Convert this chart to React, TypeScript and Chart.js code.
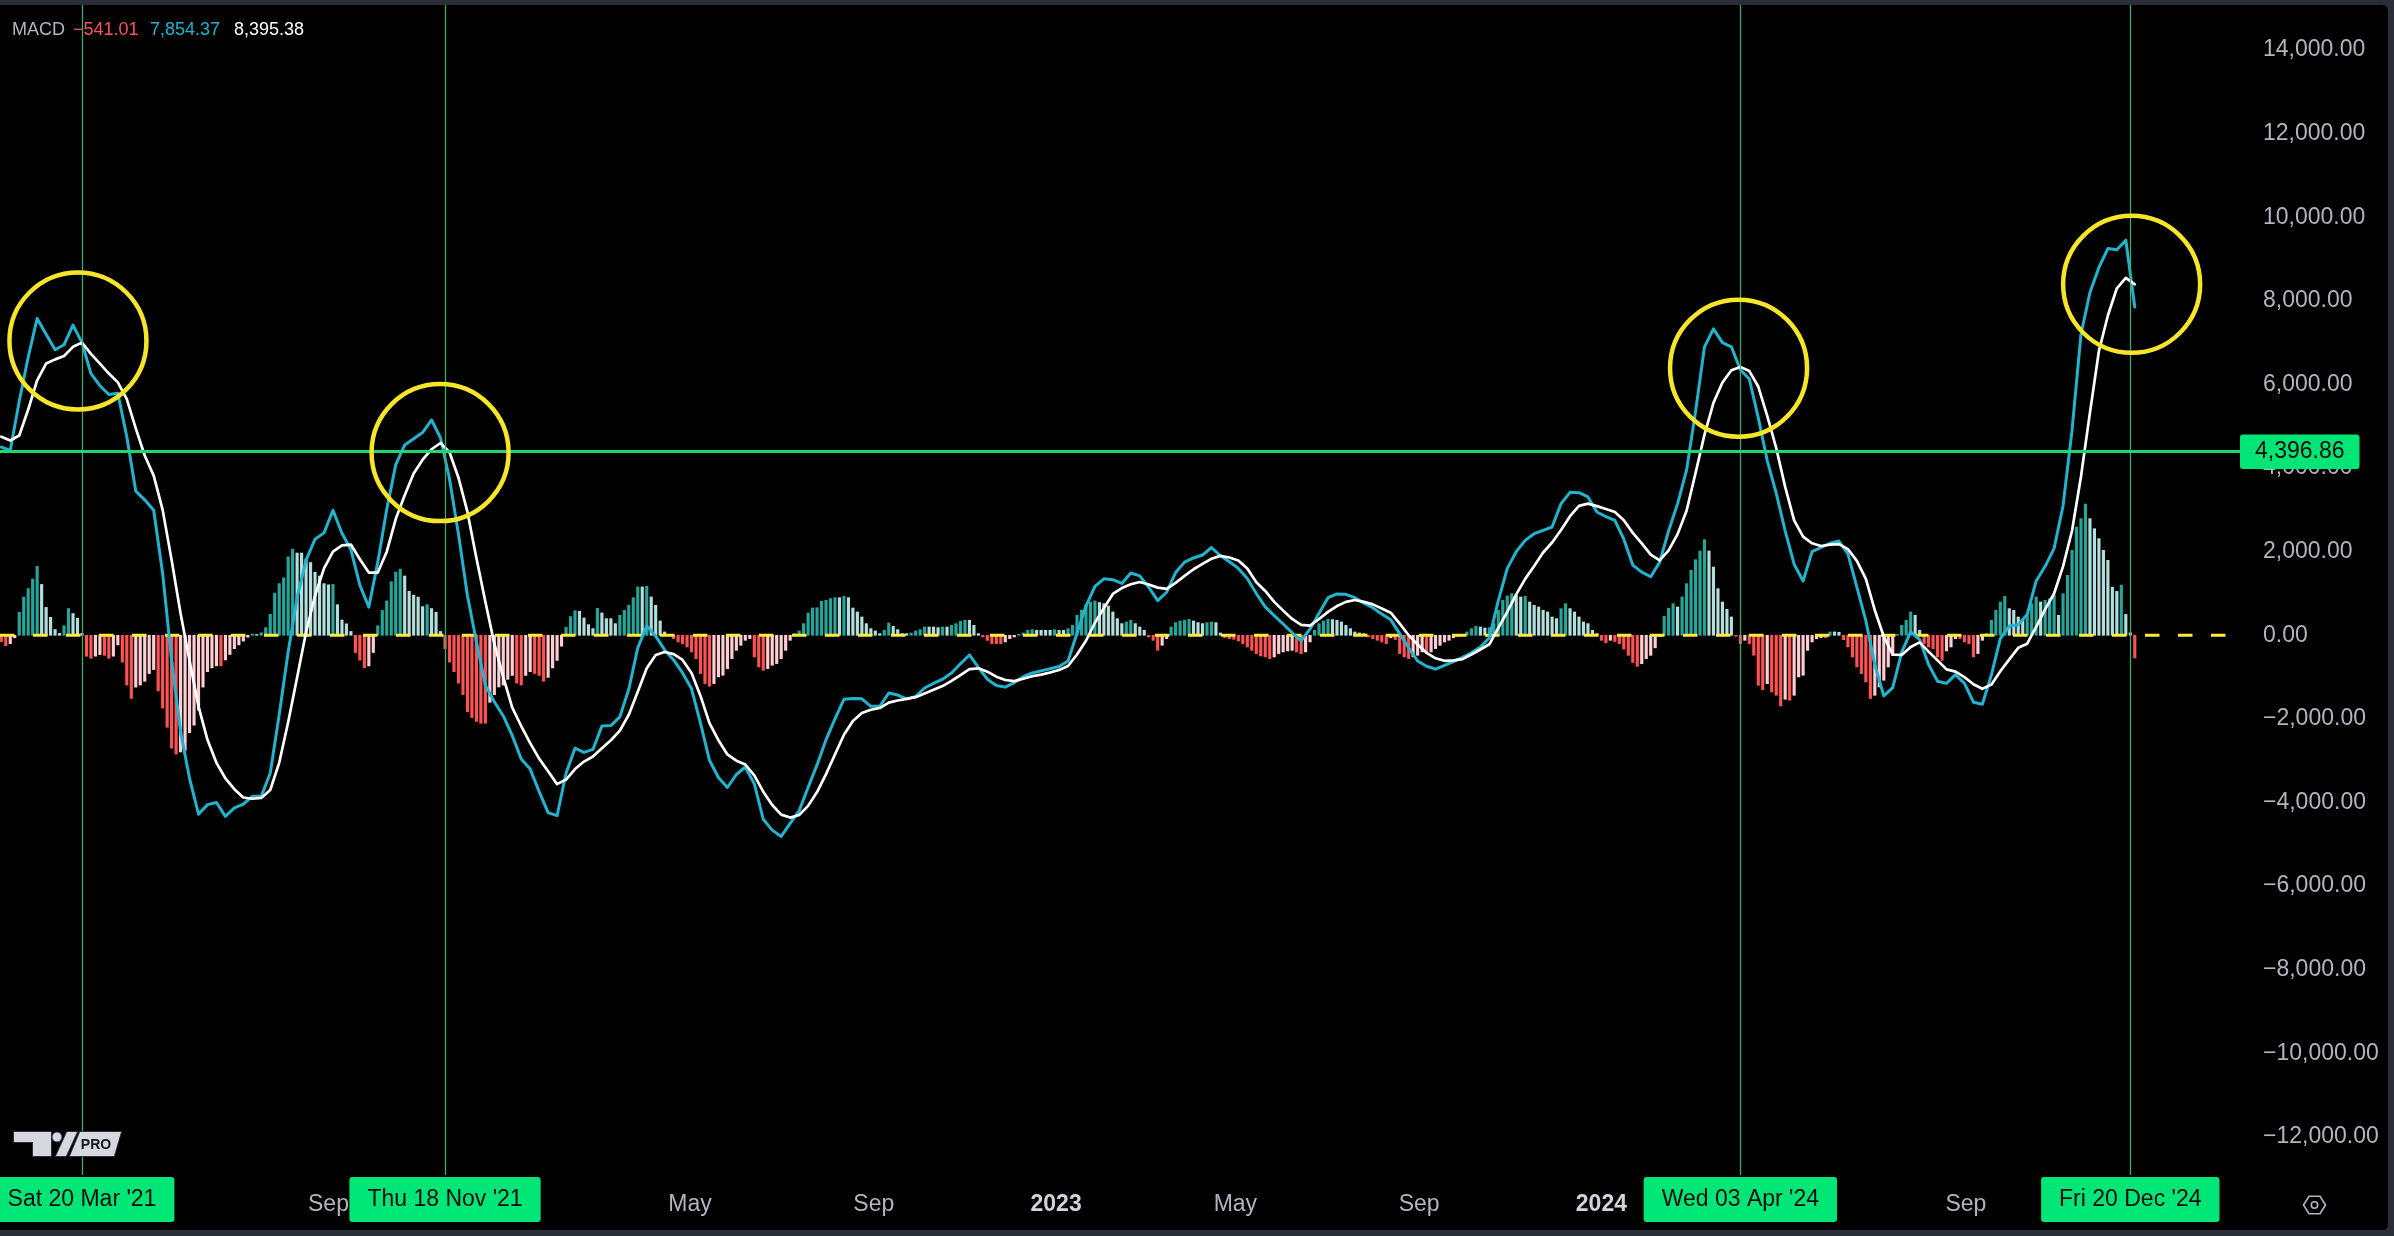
import React, { useEffect, useRef } from "react";
import { Chart, registerables } from "chart.js";

Chart.register(...registerables);

// ---------------- data ----------------
// 3-day bars; bar 0 = 2021-01-25
const startDate = "2021-01-25";
const barDays = 3;
// MACD / signal lines are sampled every 2 bars (bar 0, 2, 4, ... 476)
const lineStep = 2;

const macdLine = [
  4500, 4420, 5600, 6650, 7580, 7200, 6830, 6950, 7420, 7000,
  6260, 5970, 5760, 5790, 4750, 3450, 3240, 2990, 1480, -600,
  -2300, -3420, -4280, -4050, -4000, -4330, -4130, -4040, -3850, -3850,
  -3300, -1900, -400, 900, 1800, 2300, 2450, 2990, 2440, 2050,
  1200, 675, 1750, 3013, 4080, 4550, 4700, 4850, 5150, 4720,
  3740, 2420, 950, -150, -1200, -1590, -1930, -2400, -2960, -3200,
  -3740, -4240, -4315, -3300, -2700, -2800, -2730, -2170, -2160, -1950,
  -1290, -300, 222, -20, -350, -590, -900, -1280, -2100, -2990,
  -3400, -3640, -3330, -3150, -3550, -4400, -4660, -4810, -4500, -4200,
  -3640, -3100, -2500, -2000, -1530, -1510, -1520, -1700, -1700, -1380,
  -1430, -1520, -1460, -1260, -1150, -1050, -900, -680, -470, -770,
  -1050, -1200, -1240, -1130, -990, -900, -850, -800, -745, -615,
  50, 700, 1170, 1350, 1330, 1240, 1490, 1420, 1150, 830,
  1030, 1500, 1750, 1850, 1920, 2100, 1900, 1760, 1600, 1360,
  1000, 680, 470, 270, 60, -130, 150, 530, 900, 990,
  980, 900, 770, 660, 510, 370, 40, -300, -615, -740,
  -810, -720, -630, -530, -420, -280, -60, 830, 1600, 2000,
  2270, 2430, 2510, 2590, 3150, 3420, 3410, 3310, 2950, 2840,
  2750, 2300, 1680, 1510, 1400, 1750, 2500, 3150, 3950, 5350,
  6900, 7330, 7000, 6900, 6350, 6130, 5200, 4180, 3400, 2500,
  1700, 1300, 2000, 2100, 2200, 2255, 1950, 1150, 350, -700,
  -1450, -1250, -400, 80, -100, -700, -1100, -1150, -940, -1150,
  -1600, -1650, -950, -80, 222, 250, 500, 1300, 1650, 2080,
  3100, 4900, 7200, 8200, 8800, 9250, 9220, 9450, 7854,
];

const signalLine = [
  4750, 4660, 4780, 5400, 6100, 6500, 6600, 6680, 6900, 7000,
  6730, 6500, 6260, 6050, 5650, 4950, 4300, 3820, 3000, 1800,
  520, -600, -1700, -2500, -3050, -3420, -3680, -3880, -3910, -3890,
  -3700, -3050, -2080, -1010, 80, 950, 1600, 2000, 2150, 2170,
  1820, 1500, 1500, 2000, 2780, 3350, 3870, 4200, 4450, 4600,
  4380, 3770, 2950, 1850, 800, -200, -1000, -1730, -2170, -2580,
  -2950, -3250, -3560, -3450, -3200, -3020, -2900, -2700, -2510, -2280,
  -1900, -1350, -790, -470, -400, -450, -590, -900, -1450, -2100,
  -2510, -2850, -3000, -3090, -3350, -3740, -4060, -4290, -4360, -4300,
  -4080, -3750, -3320, -2850, -2380, -2050, -1860, -1780, -1740, -1610,
  -1560, -1520, -1480, -1390, -1300, -1215, -1090, -950, -810, -790,
  -870, -990, -1070, -1095, -1040, -980, -940, -890, -830, -735,
  -460, -130, 300, 650, 990, 1130, 1220, 1275, 1215, 1140,
  1110, 1255, 1420, 1580, 1710, 1830, 1900, 1860, 1790, 1600,
  1270, 1060, 800, 590, 390, 250, 230, 390, 560, 700,
  800, 845, 800, 740, 640, 540, 280, 0, -220, -420,
  -550, -610, -600, -570, -460, -340, -215, 180, 560, 980,
  1350, 1660, 1980, 2220, 2520, 2850, 3095, 3150, 3090, 3020,
  2950, 2750, 2450, 2200, 1930, 1790, 2030, 2420, 2980, 3880,
  4800, 5560, 6045, 6340, 6420, 6320, 5950, 5250, 4480, 3550,
  2750, 2360, 2200, 2135, 2170, 2180, 2060, 1780, 1350, 600,
  -30, -460, -470, -280, -170, -390, -600, -815, -870, -1000,
  -1170, -1280, -1180, -860, -575, -300, -200, 200, 620, 1000,
  1650, 2500, 3800, 5325, 6800, 7650, 8300, 8550, 8395,
];

// histogram: one value per 3-day bar (bar 0 ... 476)
const histogram = [
  -150, -250, -200, -60, 550, 915, 1117, 1345, 1650, 1217,
  668, 430, 137, 46, 229, 640, 520, 410, 46, -500,
  -550, -500, -460, -480, -550, -500, -230, -640, -1190, -1510,
  -1240, -1190, -1100, -915, -820, -1330, -1740, -2200, -2700, -2840,
  -2790, -2750, -2330, -2150, -1790, -1240, -870, -780, -730, -730,
  -590, -460, -320, -230, -140, -45, 30, 20, 60, 183,
  503, 1007, 1236, 1373, 1876, 2060, 1968, 1968, 1830, 1740,
  1510, 1418, 1236, 1208, 1217, 732, 366, 275, 92, -412,
  -595, -777, -732, -412, 229, 595, 824, 1281, 1510, 1580,
  1418, 1053, 961, 915, 686, 732, 640, 549, 92, -320,
  -640, -870, -1144, -1419, -1830, -1968, -2060, -2105, -2105, -1602,
  -1419, -1236, -1190, -1053, -961, -1144, -1190, -961, -870, -915,
  -961, -1098, -1007, -780, -600, -260, 190, 450, 585, 575,
  415, 255, 160, 645, 534, 398, 398, 279, 478, 598,
  717, 900, 1157, 1157, 1172, 917, 717, 343, 80, 10,
  -80, -159, -199, -279, -398, -558, -916, -1155, -1219, -1155,
  -996, -956, -797, -558, -359, -239, -120, -80, -518, -757,
  -837, -797, -717, -677, -558, -359, -120, 40, 104, 279,
  534, 653, 661, 813, 837, 877, 900, 900, 932, 900,
  653, 558, 438, 279, 159, 104, 40, 120, 295, 215,
  135, 40, 40, 56, 104, 135, 199, 199, 199, 183,
  199, 199, 239, 279, 335, 359, 359, 239, 40, -40,
  -120, -199, -199, -199, -159, -80, -40, 24, 56, 120,
  135, 120, 120, 120, 120, 135, 120, 120, 159, 239,
  478, 598, 740, 797, 821, 785, 757, 700, 558, 398,
  279, 319, 359, 279, 199, 120, -40, -120, -359, -239,
  -80, 199, 303, 343, 359, 383, 343, 303, 279, 303,
  319, 303, 56, -56, -80, -96, -135, -199, -279, -359,
  -438, -494, -518, -558, -518, -438, -398, -375, -359, -398,
  -438, -398, -159, 120, 279, 343, 383, 375, 359, 319,
  239, 159, 80, 56, 40, -40, -80, -120, -159, -199,
  -60, -100, -438, -518, -558, -518, -478, -398, -438, -398,
  -319, -239, -159, -120, -56, -24, 20, 80, 159, 215,
  199, 175, 183, 279, 598, 837, 941, 996, 956, 916,
  932, 797, 717, 677, 598, 558, 438, 398, 638, 757,
  638, 558, 438, 319, 279, 120, 40, -120, -180, -120,
  -150, -200, -330, -480, -650, -740, -680, -560, -480, -300,
  -30, 454, 645, 757, 677, 917, 1235, 1554, 1809, 2017,
  2287, 2017, 1633, 1116, 797, 622, 438, -24, -199, -120,
  -199, -478, -1196, -1299, -1156, -1355, -1434, -1690, -1530, -1554,
  -1434, -996, -956, -359, -159, -80, -56, -56, 80, 80,
  72, -104, -279, -518, -757, -916, -1116, -1514, -1435, -1235,
  -1076, -757, -478, 24, 239, 359, 558, 478, 120, -199,
  -279, -319, -518, -598, -375, -279, -80, -80, -159, -199,
  -518, -438, -120, 40, 359, 598, 797, 932, 638, 598,
  438, 359, 478, 757, 917, 797, 837, 877, 956, 478,
  996, 1435, 2032, 2590, 2790, 3140, 2790, 2550, 2311, 2032,
  1793, 1150, 1050, 1200, 500, 60, -541.01,
];

const yTickValues = [14000, 12000, 10000, 8000, 6000, 4000, 2000, 0, -2000, -4000, -6000, -8000, -10000, -12000];
const xTickDates = [
  "2021-05-01", "2021-09-01", "2022-01-01", "2022-05-01", "2022-09-01", "2023-01-01",
  "2023-05-01", "2023-09-01", "2024-01-01", "2024-05-01", "2024-09-01", "2025-01-01",
];
const xTickLabels = ["May", "Sep", "2022", "May", "Sep", "2023", "May", "Sep", "2024", "May", "Sep", "2025"];

const markerDates = ["2021-03-20", "2021-11-18", "2024-04-03", "2024-12-20"];
const markerLabels = ["Sat 20 Mar '21", "Thu 18 Nov '21", "Wed 03 Apr '24", "Fri 20 Dec '24"];

// highlighted peaks (bar index, value)
const circleBars = [17.1, 97.9, 387.6, 475.3];
const circleValues = [7040, 4370, 6390, 8395];

const levelValue = 4396.86;
const legendName = "MACD";
const legendValues = [-541.01, 7854.37, 8395.38];

const yMin = -12909;
const yMax = 15076;
const xMin = -0.29;
const xMax = 496.8;

// ---------------- style ----------------
const FONT = "'Liberation Sans', Arial, sans-serif";
const C = {
  frame: "#2a2e39",
  panel: "#000000",
  macd: "#22b3cf",
  signal: "#ffffff",
  zero: "#ffeb3b",
  level: "#1fd66f",
  marker: "#3faa6a",
  tag: "#00e676",
  tagText: "#0b0c0f",
  axis: "#b2b5be",
  axisBold: "#d1d4dc",
  circle: "#f7e52a",
  growAbove: "#26a69a",
  fallAbove: "#b2dfdb",
  riseBelow: "#ffcdd2",
  fallBelow: "#ff5252",
  red: "#f7525f",
};
// legend text x positions (px from the left edge)
const legendX = [12, 73, 150, 234];

const dayMs = 86400000;
const t0 = Date.parse(startDate + "T00:00:00Z");
const barOf = (d: string) => (Date.parse(d + "T00:00:00Z") - t0) / dayMs / barDays;

const fmt = (v: number) =>
  v.toLocaleString("en-US", { minimumFractionDigits: 2, maximumFractionDigits: 2 }).replace("-", "\u2212");

const xTickValues = xTickDates.map(barOf);
const isYearLabel = (i: number) => /^\d{4}$/.test(xTickLabels[i] || "");

const histColors = histogram.map((v, i) => {
  const prev = i > 0 ? histogram[i - 1] : v;
  if (v >= 0) return prev < v ? C.growAbove : C.fallAbove;
  return prev < v ? C.riseBelow : C.fallBelow;
});

function roundRectPath(ctx: CanvasRenderingContext2D, x: number, y: number, w: number, h: number, r: number) {
  ctx.beginPath();
  ctx.moveTo(x + r, y);
  ctx.lineTo(x + w - r, y);
  ctx.quadraticCurveTo(x + w, y, x + w, y + r);
  ctx.lineTo(x + w, y + h - r);
  ctx.quadraticCurveTo(x + w, y + h, x + w - r, y + h);
  ctx.lineTo(x + r, y + h);
  ctx.quadraticCurveTo(x, y + h, x, y + h - r);
  ctx.lineTo(x, y + r);
  ctx.quadraticCurveTo(x, y, x + r, y);
  ctx.closePath();
}

const zeroPadding = (s: any) => {
  s.paddingLeft = 0;
  s.paddingRight = 0;
  s.paddingTop = 0;
  s.paddingBottom = 0;
};

const overlayPlugin = {
  id: "overlay",
  beforeDraw(chart: any) {
    const { ctx, chartArea } = chart;
    const ys = chart.scales.y;
    const xs = chart.scales.x;
    ctx.save();
    ctx.fillStyle = C.frame;
    ctx.fillRect(0, 0, chart.width, chart.height);
    ctx.fillStyle = C.panel;
    const x0 = -10, y0 = chartArea.top, w = ys.right + 10, h = xs.bottom - chartArea.top;
    roundRectPath(ctx, x0, y0, w, h, 6);
    ctx.fill();
    ctx.restore();
  },
  afterDatasetsDraw(chart: any) {
    const { ctx, chartArea } = chart;
    const xs = chart.scales.x;
    const ys = chart.scales.y;
    ctx.save();
    // vertical marker lines
    ctx.strokeStyle = C.marker;
    ctx.lineWidth = 1.3;
    markerDates.forEach((d) => {
      const x = Math.round(xs.getPixelForValue(barOf(d))) + 0.5;
      ctx.beginPath();
      ctx.moveTo(x, chartArea.top);
      ctx.lineTo(x, chartArea.bottom);
      ctx.stroke();
    });
    // horizontal level line (runs into the axis up to its tag)
    const ly = ys.getPixelForValue(levelValue);
    ctx.strokeStyle = C.level;
    ctx.lineWidth = 3;
    ctx.beginPath();
    ctx.moveTo(chartArea.left, ly);
    ctx.lineTo(ys.left + 12, ly);
    ctx.stroke();
    // circles
    ctx.beginPath();
    ctx.rect(chartArea.left, chartArea.top, chartArea.right - chartArea.left, chartArea.bottom - chartArea.top);
    ctx.clip();
    ctx.strokeStyle = C.circle;
    ctx.lineWidth = 4.5;
    circleBars.forEach((b, i) => {
      const cx = xs.getPixelForValue(b);
      const cy = ys.getPixelForValue(circleValues[i]);
      ctx.beginPath();
      ctx.arc(cx, cy, 68.5, 0, Math.PI * 2);
      ctx.stroke();
    });
    ctx.restore();
  },
  afterDraw(chart: any) {
    const { ctx } = chart;
    const xs = chart.scales.x;
    const ys = chart.scales.y;
    ctx.save();

    // legend
    ctx.font = `18px ${FONT}`;
    ctx.textBaseline = "middle";
    ctx.textAlign = "left";
    const items: [string, string][] = [
      [legendName, C.axis],
      [fmt(legendValues[0]), C.red],
      [fmt(legendValues[1]), C.macd],
      [fmt(legendValues[2]), "#ffffff"],
    ];
    items.forEach(([t, c], i) => {
      ctx.fillStyle = c;
      ctx.fillText(t, legendX[i], 30);
    });

    // date tags on the time axis
    ctx.font = `23px ${FONT}`;
    ctx.textAlign = "center";
    markerDates.forEach((d, i) => {
      const x = xs.getPixelForValue(barOf(d));
      const tw = ctx.measureText(markerLabels[i]).width;
      const bw = tw + 36;
      ctx.fillStyle = C.tag;
      roundRectPath(ctx, x - bw / 2, xs.top + 2, bw, 45, 3);
      ctx.fill();
      ctx.fillStyle = C.tagText;
      ctx.fillText(markerLabels[i], x, xs.top + 25);
    });

    // level tag on the price axis
    const ly = ys.getPixelForValue(levelValue);
    ctx.textAlign = "left";
    const lt = fmt(levelValue);
    const ltw = ctx.measureText(lt).width;
    ctx.fillStyle = C.tag;
    roundRectPath(ctx, ys.left + 12, ly - 17, ltw + 30, 34.5, 3);
    ctx.fill();
    ctx.fillStyle = C.tagText;
    ctx.fillText(lt, ys.left + 27, ly + 0.5);

    // TradingView PRO badge
    const bx = 14, by = 1132;
    ctx.fillStyle = "#d6d8de";
    ctx.strokeStyle = "#2a2e39";
    ctx.lineWidth = 2;
    ctx.beginPath();
    ctx.moveTo(bx, by); ctx.lineTo(bx + 37, by); ctx.lineTo(bx + 37, by + 24);
    ctx.lineTo(bx + 19, by + 24); ctx.lineTo(bx + 19, by + 10); ctx.lineTo(bx, by + 10);
    ctx.closePath(); ctx.stroke(); ctx.fill();
    ctx.beginPath(); ctx.arc(bx + 43, by + 5, 4.5, 0, Math.PI * 2); ctx.stroke(); ctx.fill();
    ctx.beginPath();
    ctx.moveTo(bx + 53, by); ctx.lineTo(bx + 63, by); ctx.lineTo(bx + 52, by + 24); ctx.lineTo(bx + 42, by + 24);
    ctx.closePath(); ctx.stroke(); ctx.fill();
    ctx.beginPath();
    ctx.moveTo(bx + 66, by); ctx.lineTo(bx + 107, by); ctx.lineTo(bx + 100, by + 24); ctx.lineTo(bx + 56, by + 24);
    ctx.closePath(); ctx.stroke(); ctx.fill();
    ctx.fillStyle = "#131722";
    ctx.font = `bold 14px ${FONT}`;
    ctx.textAlign = "center";
    ctx.fillText("PRO", bx + 82, by + 13);

    // settings icon
    const gx = 2314.5, gy = 1205, gr = 11;
    ctx.strokeStyle = C.axis;
    ctx.lineWidth = 1.6;
    ctx.beginPath();
    for (let k = 0; k < 6; k++) {
      const a = (Math.PI / 3) * k;
      const px = gx + gr * Math.cos(a);
      const py = gy + gr * Math.sin(a) * 0.92;
      if (k === 0) ctx.moveTo(px, py); else ctx.lineTo(px, py);
    }
    ctx.closePath();
    ctx.stroke();
    ctx.beginPath();
    ctx.arc(gx, gy, 3.2, 0, Math.PI * 2);
    ctx.stroke();

    ctx.restore();
  },
};

export default function App() {
  const ref = useRef<HTMLCanvasElement | null>(null);

  useEffect(() => {
    const canvas = ref.current;
    if (!canvas) return;

    const config: any = {
      data: {
        datasets: [
          {
            type: "line",
            label: "Signal",
            data: signalLine.map((y, k) => ({ x: k * lineStep, y })),
            borderColor: C.signal,
            borderWidth: 2.7,
            pointRadius: 0,
            tension: 0,
            borderJoinStyle: "round",
            borderCapStyle: "round",
            order: 1,
          },
          {
            type: "line",
            label: "MACD",
            data: macdLine.map((y, k) => ({ x: k * lineStep, y })),
            borderColor: C.macd,
            borderWidth: 3,
            pointRadius: 0,
            tension: 0,
            borderJoinStyle: "round",
            borderCapStyle: "round",
            order: 2,
          },
          {
            type: "line",
            label: "Zero",
            data: [
              { x: xMin, y: 0 },
              { x: xMax, y: 0 },
            ],
            borderColor: C.zero,
            borderWidth: 3,
            borderDash: [14.5, 18.5],
            pointRadius: 0,
            order: 3,
          },
          {
            type: "bar",
            label: "Histogram",
            data: histogram.map((y, i) => ({ x: i, y })),
            backgroundColor: histColors,
            borderWidth: 0,
            barThickness: 2.5,
            grouped: false,
            order: 4,
          },
        ],
      },
      options: {
        responsive: false,
        animation: false,
        devicePixelRatio: 1,
        events: [],
        layout: { padding: { left: 0, top: 5, right: 6, bottom: 6 } },
        plugins: { legend: { display: false }, tooltip: { enabled: false } },
        scales: {
          x: {
            type: "linear",
            position: "bottom",
            offset: false,
            min: xMin,
            max: xMax,
            grid: { display: false, offset: false },
            border: { display: false },
            afterBuildTicks: (s: any) => {
              s.ticks = xTickValues.map((v) => ({ value: v }));
            },
            afterFit: (s: any) => {
              s.height = 55;
              zeroPadding(s);
            },
            ticks: {
              autoSkip: false,
              maxRotation: 0,
              minRotation: 0,
              padding: 8,
              callback: (_v: number, i: number) => xTickLabels[i],
              color: (ctx: any) => (isYearLabel(ctx.index) ? C.axisBold : C.axis),
              font: (ctx: any) => ({ family: FONT, size: 23, weight: isYearLabel(ctx.index) ? "bold" : "normal" }),
            },
          },
          y: {
            type: "linear",
            position: "right",
            min: yMin,
            max: yMax,
            grid: { display: false },
            border: { display: false },
            afterBuildTicks: (s: any) => {
              s.ticks = yTickValues.map((v) => ({ value: v }));
            },
            afterFit: (s: any) => {
              s.width = 160;
              zeroPadding(s);
            },
            ticks: {
              padding: 27,
              color: C.axis,
              font: { family: FONT, size: 23 },
              callback: (v: number) => fmt(v),
            },
          },
        },
      },
      plugins: [overlayPlugin],
    };

    const chart = new Chart(canvas, config);
    return () => chart.destroy();
  }, []);

  return (
    <div style={{ position: "fixed", left: 0, top: 0, width: 2394, height: 1236, background: C.frame }}>
      <canvas ref={ref} width={2394} height={1236} style={{ display: "block", width: 2394, height: 1236 }} />
    </div>
  );
}
